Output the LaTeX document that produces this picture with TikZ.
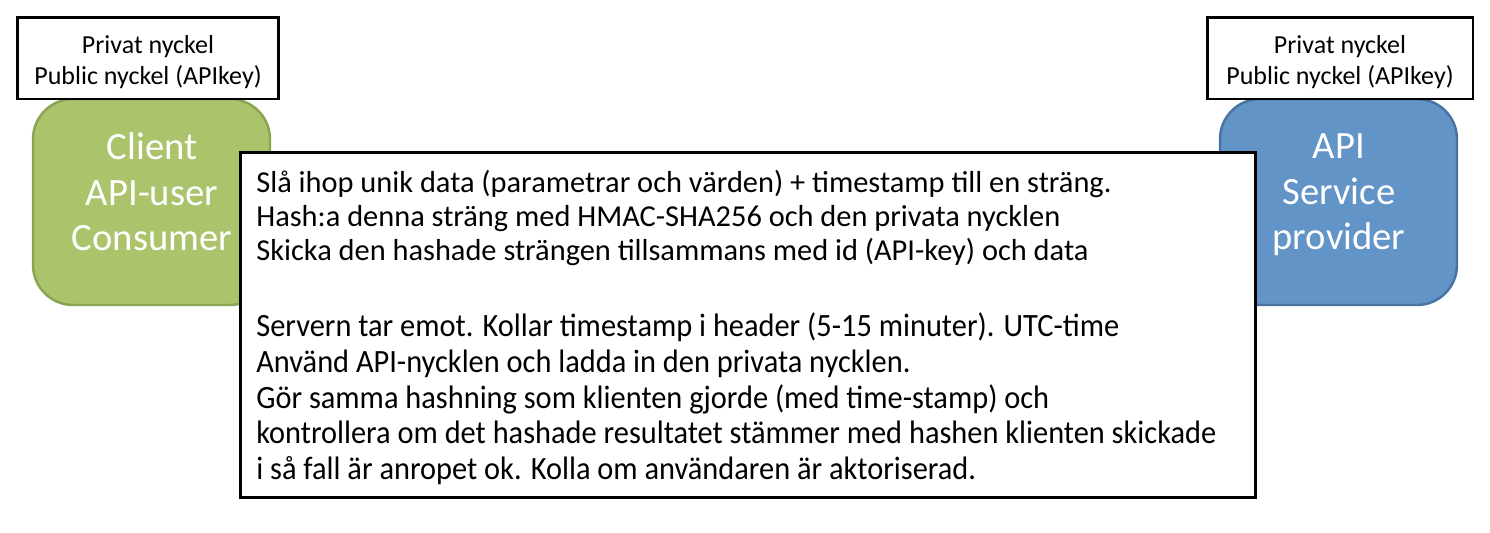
\documentclass[tikz,border=0pt]{standalone}
\usepackage{fontspec}
\setmainfont{Carlito}
\newfontfamily\condfont{Carlito}[FakeStretch=0.935]
\usetikzlibrary{positioning}

\definecolor{clientgreen}{RGB}{171,196,108}
\definecolor{clientedge}{RGB}{140,164,82}
\definecolor{apiblue}{RGB}{99,148,200}
\definecolor{apiedge}{RGB}{72,114,160}

\begin{document}
\begin{tikzpicture}[
  x=0.02cm, y=-0.02cm,
  keybox/.style={draw=black, line width=1.7pt, fill=white,
                 minimum height=1.64cm, inner sep=0pt},
  keytext/.style={align=center, inner sep=0pt,
                  font=\fontsize{14.8}{17.2}\selectfont},
  party/.style={line width=1.4pt, rounded corners=0.8cm,
                minimum width=4.74cm, minimum height=4.12cm},
  partytext/.style={text=white, align=center,
                    font=\fontsize{22}{26}\selectfont},
  msgbox/.style={draw=black, line width=1.7pt, fill=white,
                 minimum width=20.32cm, minimum height=6.92cm},
  msgtext/.style={anchor=west, align=left, inner sep=0pt}
]
\useasboundingbox (0,0) rectangle (1490,532);

% ==================== Parties ====================
\node[party, draw=clientedge, fill=clientgreen] (client) at (151.5,202) {};
\node[party, draw=apiedge, fill=apiblue] (api) at (1338.5,202) {};
\node[partytext] (clienttxt) at (152,192) {Client\\API-user\\Consumer};
\node[partytext] (apitxt) at (1339,195) {API\\Service\\provider};

% ==================== Keys ====================
\node[keybox, minimum width=5.24cm] (clientkeys) at (148,58) {};
\node[keytext] (clientkeytxt) at (148,62) {Privat nyckel\\Public nyckel (APIkey)};
\node[keybox, minimum width=5.32cm] (apikeys) at (1340,58) {};
\node[keytext] (apikeytxt) at (1340,62) {Privat nyckel\\Public nyckel (APIkey)};

% ==================== Message flow ====================
\node[msgbox] (flow) at (748,325) {};
\node[msgtext, font=\fontsize{17.3}{19.3}\selectfont] (clientsteps) at (256,218)
  {Slå ihop unik data (parametrar och värden) + timestamp till en sträng.\\
   Hash:a denna sträng med HMAC-SHA256 och den privata nycklen\\
   Skicka den hashade strängen tillsammans med id (API-key) och data};
\node[msgtext, font=\condfont\fontsize{18.5}{20.3}\selectfont] (serversteps) at (256,399)
  {Servern tar emot. Kollar timestamp i header (5-15 minuter). UTC-time\\
   Använd API-nycklen och ladda in den privata nycklen.\\
   Gör samma hashning som klienten gjorde (med time-stamp) och\\
   kontrollera om det hashade resultatet stämmer med hashen klienten skickade\\
   i så fall är anropet ok. Kolla om användaren är aktoriserad.};

\end{tikzpicture}
\end{document}
